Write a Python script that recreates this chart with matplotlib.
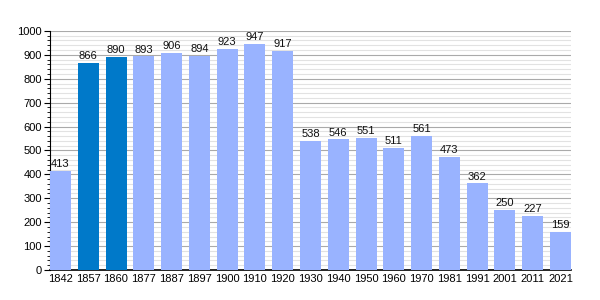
import matplotlib
matplotlib.use("Agg")
import matplotlib.pyplot as plt
from matplotlib.ticker import MultipleLocator

years = ["1842", "1857", "1860", "1877", "1887", "1897", "1900", "1910", "1920", "1930",
         "1940", "1950", "1960", "1970", "1981", "1991", "2001", "2011", "2021"]
population = [413, 866, 890, 893, 906, 894, 923, 947, 917, 538,
              546, 551, 511, 561, 473, 362, 250, 227, 159]
highlight = ["1857", "1860"]

light = "#99b3ff"
dark = "#0079c9"
colors = [dark if y in highlight else light for y in years]

W = 0.755
fig = plt.figure(figsize=(6, 3), dpi=100)
ax = fig.add_axes([0.0833, 0.1, 0.8683, 0.797])

x = list(range(len(years)))
ax.bar(x, population, width=W, color=colors, zorder=3)
for xi, v in zip(x, population):
    ax.text(xi, v + 8, str(v), ha="center", va="bottom", fontsize=8,
            family="Liberation Sans", color="#111111", zorder=4)

ax.set_xlim(-W / 2, len(years) - 1 + W / 2)
ax.set_ylim(0, 1000)
ax.yaxis.set_major_locator(MultipleLocator(100))
ax.yaxis.set_minor_locator(MultipleLocator(20))
ax.grid(axis="y", which="major", color="#aaaaaa", linewidth=0.8, zorder=0)
ax.grid(axis="y", which="minor", color="#e2e2e2", linewidth=0.8, zorder=0)
ax.set_xticks(x)
ax.set_xticklabels(years)
for lab in ax.get_xticklabels() + ax.get_yticklabels():
    lab.set_family("Liberation Sans")
    lab.set_fontsize(8)
ax.tick_params(axis="x", length=0, pad=3)
ax.tick_params(axis="y", which="major", length=4, direction="out", pad=2)
ax.tick_params(axis="y", which="minor", length=2, direction="out")
for s in ["top", "right"]:
    ax.spines[s].set_visible(False)
ax.spines["left"].set_color("black")
ax.spines["bottom"].set_color("black")
ax.spines["bottom"].set_linewidth(1.2)

fig.savefig("out.png", dpi=100)
